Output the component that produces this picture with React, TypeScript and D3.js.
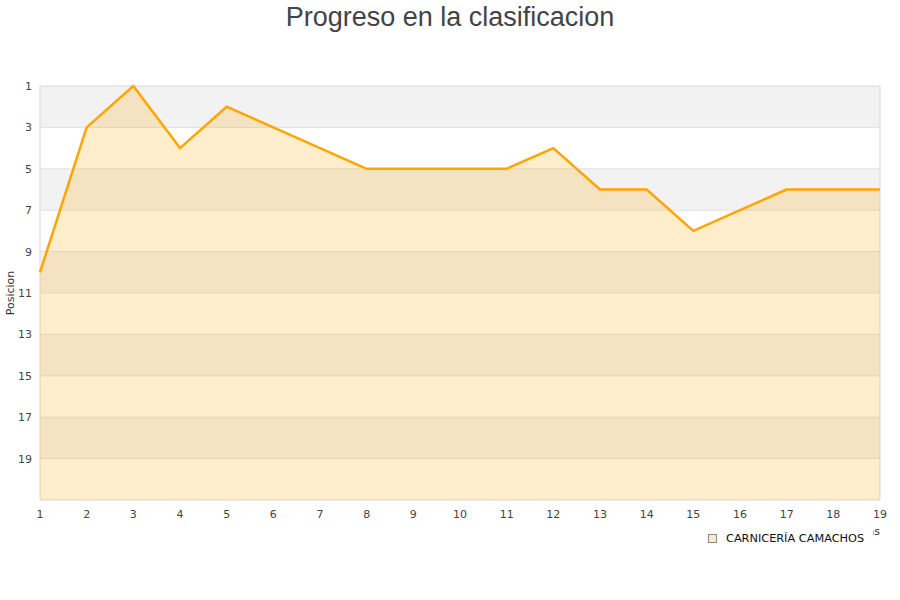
import { useEffect, useRef } from 'react'
import * as d3 from 'd3'

const jornadas = [1, 2, 3, 4, 5, 6, 7, 8, 9, 10, 11, 12, 13, 14, 15, 16, 17, 18, 19]
const posiciones = [10, 3, 1, 4, 2, 3, 4, 5, 5, 5, 5, 4, 6, 6, 8, 7, 6, 6, 6]
const yTicks = [1, 3, 5, 7, 9, 11, 13, 15, 17, 19]
const seriesName = 'CARNICERÍA CAMACHOS'
const chartTitle = 'Progreso en la clasificacion'

export default function App() {
  const svgRef = useRef<SVGSVGElement>(null)

  useEffect(() => {
    if (!svgRef.current) return
    const svg = d3.select(svgRef.current)
    svg.selectAll('*').remove()

    const left = 40
    const right = 880
    const top = 86
    const bottom = 500
    const font = '"DejaVu Sans", sans-serif'

    const x = d3.scaleLinear().domain([1, 19]).range([left, right])
    const y = d3.scaleLinear().domain([1, 21]).range([top, bottom])

    // Alternating bands
    const bandStarts = d3.range(1, 21, 2)
    svg.append('g').selectAll('rect').data(bandStarts).join('rect')
      .attr('x', left).attr('width', right - left)
      .attr('y', d => y(d)).attr('height', d => y(d + 2) - y(d))
      .attr('fill', (_, i) => (i % 2 === 0 ? '#f2f2f2' : '#ffffff'))

    // Grid lines
    svg.append('g').selectAll('line').data(yTicks.slice(1)).join('line')
      .attr('x1', left).attr('x2', right)
      .attr('y1', d => y(d)).attr('y2', d => y(d))
      .attr('stroke', '#e0e0e0').attr('stroke-width', 1)

    // Frame
    svg.append('rect')
      .attr('x', left).attr('y', top)
      .attr('width', right - left).attr('height', bottom - top)
      .attr('fill', 'none').attr('stroke', '#d9d9d9').attr('stroke-width', 1)

    const pts = jornadas.map((j, i) => [j, posiciones[i]] as [number, number])

    // Area fill
    const area = d3.area<[number, number]>()
      .x(d => x(d[0])).y0(bottom).y1(d => y(d[1]))
    svg.append('path').attr('d', area(pts)!)
      .attr('fill', '#ffa500').attr('fill-opacity', 0.2)

    // Line
    const line = d3.line<[number, number]>().x(d => x(d[0])).y(d => y(d[1]))
    svg.append('path').attr('d', line(pts)!)
      .attr('fill', 'none').attr('stroke', '#ffa500').attr('stroke-width', 2.5)
      .attr('stroke-linejoin', 'round')

    // Y tick labels
    svg.append('g').selectAll('text').data(yTicks).join('text')
      .attr('x', 32).attr('y', d => y(d) + 4)
      .attr('text-anchor', 'end')
      .attr('font-family', font).attr('font-size', 11).attr('fill', '#444')
      .text(d => d)

    // X tick labels
    svg.append('g').selectAll('text').data(jornadas).join('text')
      .attr('x', d => x(d)).attr('y', 518)
      .attr('text-anchor', 'middle')
      .attr('font-family', font).attr('font-size', 11).attr('fill', '#444')
      .text(d => d)

    // Axis titles
    svg.append('text')
      .attr('transform', 'translate(14,293) rotate(-90)')
      .attr('text-anchor', 'middle')
      .attr('font-family', font).attr('font-size', 11).attr('fill', '#333')
      .text('Posicion')
    svg.append('text')
      .attr('x', 880).attr('y', 535)
      .attr('text-anchor', 'end')
      .attr('font-family', font).attr('font-size', 11).attr('fill', '#333')
      .text('Jornadas')

    // Legend (its white box hides most of the x title)
    const lg = svg.append('g')
    lg.append('rect').attr('x', 700).attr('y', 526).attr('width', 173).attr('height', 24).attr('fill', '#fff')
    lg.append('rect').attr('x', 708.5).attr('y', 534.5).attr('width', 8).attr('height', 8)
      .attr('fill', '#fdeccb').attr('stroke', '#888').attr('stroke-width', 1)
    lg.append('text').attr('x', 726).attr('y', 542)
      .attr('font-family', font).attr('font-size', 11.3).attr('fill', '#111')
      .text(seriesName)

    // Title
    svg.append('text')
      .attr('x', 450).attr('y', 26)
      .attr('text-anchor', 'middle')
      .attr('font-family', '"Liberation Sans", Arial, sans-serif')
      .attr('font-size', 27).attr('fill', '#444')
      .text(chartTitle)
  }, [])

  return (
    <svg ref={svgRef} width={900} height={600}
      style={{ position: 'absolute', left: 0, top: 0, background: '#fff' }} />
  )
}
